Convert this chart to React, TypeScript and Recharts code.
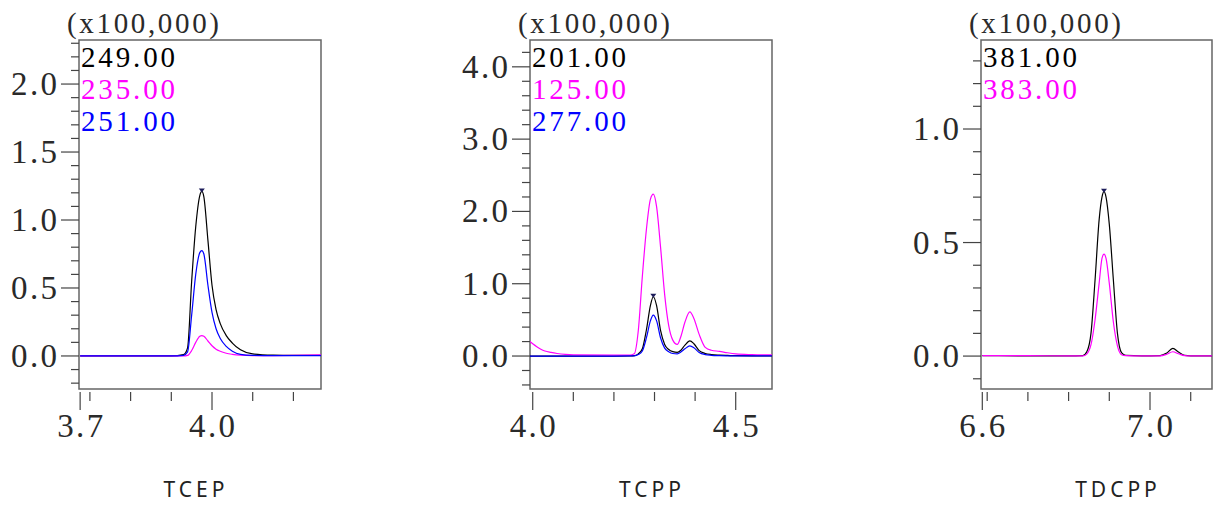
import React from "react";
import {LineChart, Line, XAxis, YAxis, ReferenceArea, ReferenceDot} from "recharts";

const SERIF = "'Liberation Serif', 'DejaVu Serif', serif";
const SANS = "'Noto Sans', 'Open Sans', sans-serif";
const CELL = 16;
const HEIGHT = 506;
const PLOT_TOP = 40;
const PLOT_BOTTOM = 389;

// ---- TCEP ----
const tcepTime = [3.676, 3.8, 3.9, 3.93, 3.94, 3.95, 3.96, 3.97, 3.975, 3.98, 3.99, 4.0, 4.01, 4.02, 4.035, 4.05, 4.07, 4.1, 4.15, 4.2, 4.268];
const tcep249 = [0, 0, 0, 0.01, 0.06, 0.55, 0.95, 1.18, 1.21, 1.17, 0.85, 0.52, 0.34, 0.24, 0.15, 0.095, 0.045, 0.015, 0.006, 0.004, 0.004];
const tcep235 = [0, 0, 0, 0, 0.004, 0.04, 0.1, 0.145, 0.15, 0.145, 0.11, 0.075, 0.05, 0.035, 0.02, 0.012, 0.006, 0.003, 0.003, 0.004, 0.008];
const tcep251 = [0, 0, 0, 0.005, 0.03, 0.3, 0.6, 0.76, 0.775, 0.75, 0.52, 0.32, 0.2, 0.13, 0.07, 0.035, 0.012, 0.004, 0.002, 0.002, 0.003];
const tcepXTicks = [3.676, 3.7, 3.8, 3.9, 4.0, 4.1, 4.2];
const tcepXLabels = ["3.7", "", "", "", "4.0", "", ""];
const tcepYMajor = [0, 0.5, 1.0, 1.5, 2.0];
const tcepYLabels = ["0.0", "0.5", "1.0", "1.5", "2.0"];
const tcepYMinor = [-0.2, -0.1, 0.1, 0.2, 0.3, 0.4, 0.6, 0.7, 0.8, 0.9, 1.1, 1.2, 1.3, 1.4, 1.6, 1.7, 1.8, 1.9, 2.1, 2.2, 2.3];

// ---- TCPP ----
const tcppTime = [3.993, 4.0, 4.01, 4.02, 4.03, 4.045, 4.06, 4.08, 4.1, 4.2, 4.24, 4.25, 4.26, 4.27, 4.28, 4.29, 4.297, 4.305, 4.315, 4.325, 4.335, 4.345, 4.356, 4.365, 4.375, 4.387, 4.397, 4.41, 4.425, 4.44, 4.46, 4.48, 4.5, 4.54, 4.589];
const tcpp201 = [0, 0, 0, 0, 0, 0, 0, 0, 0, 0, 0.002, 0.005, 0.03, 0.1, 0.36, 0.7, 0.82, 0.7, 0.35, 0.16, 0.09, 0.06, 0.05, 0.08, 0.15, 0.21, 0.17, 0.075, 0.035, 0.02, 0.012, 0.008, 0.005, 0.003, 0.003];
const tcpp125 = [0.2, 0.17, 0.13, 0.095, 0.07, 0.05, 0.035, 0.022, 0.016, 0.012, 0.012, 0.03, 0.35, 1.1, 1.75, 2.17, 2.24, 2.07, 1.5, 0.85, 0.42, 0.22, 0.16, 0.27, 0.47, 0.61, 0.52, 0.3, 0.12, 0.08, 0.065, 0.045, 0.03, 0.02, 0.015];
const tcpp277 = [0, 0, 0, 0, 0, 0, 0, 0, 0, 0, 0.001, 0.003, 0.02, 0.07, 0.25, 0.49, 0.567, 0.49, 0.25, 0.11, 0.06, 0.035, 0.03, 0.055, 0.1, 0.14, 0.115, 0.05, 0.02, 0.01, 0.005, 0.003, 0.002, 0.001, 0.001];
const tcppXTicks = [4.0, 4.1, 4.2, 4.3, 4.4, 4.5];
const tcppXLabels = ["4.0", "", "", "", "", "4.5"];
const tcppYMajor = [0, 1, 2, 3, 4];
const tcppYLabels = ["0.0", "1.0", "2.0", "3.0", "4.0"];
const tcppYMinor = [-0.4, -0.2, 0.2, 0.4, 0.6, 0.8, 1.2, 1.4, 1.6, 1.8, 2.2, 2.4, 2.6, 2.8, 3.2, 3.4, 3.6, 3.8, 4.2];

// ---- TDCPP ----
const tdcppTime = [6.588, 6.7, 6.8, 6.835, 6.845, 6.855, 6.865, 6.875, 6.882, 6.887, 6.892, 6.9, 6.91, 6.92, 6.93, 6.94, 6.98, 7.025, 7.04, 7.056, 7.07, 7.085, 7.1, 7.155];
const tdcpp381 = [0.002, 0.001, 0.001, 0.002, 0.02, 0.1, 0.335, 0.6, 0.7, 0.724, 0.7, 0.58, 0.335, 0.1, 0.015, 0.003, 0.001, 0.002, 0.012, 0.034, 0.018, 0.003, 0.001, 0.001];
const tdcpp383 = [0.002, 0.002, 0.001, 0.001, 0.01, 0.05, 0.16, 0.32, 0.43, 0.449, 0.43, 0.32, 0.15, 0.045, 0.006, 0.002, 0.001, 0.001, 0.007, 0.019, 0.01, 0.002, 0.001, 0.001];
const tdcppXTicks = [6.588, 6.6, 6.7, 6.8, 6.9, 7.0, 7.1];
const tdcppXLabels = ["6.6", "", "", "", "", "7.0", ""];
const tdcppYMajor = [0, 0.5, 1.0];
const tdcppYLabels = ["0.0", "0.5", "1.0"];
const tdcppYMinor = [-0.1, 0.1, 0.2, 0.3, 0.4, 0.6, 0.7, 0.8, 0.9, 1.1, 1.2, 1.3];

const BLACK = "#000000";
const MAGENTA = "#ff00ff";
const BLUE = "#0000ff";

type Trace = {mz: string; values: number[]; color: string};
type Panel = {
  title: string;
  titleX: number;
  left: number;
  width: number;
  plotLeft: number;
  plotRight: number;
  xDomain: [number, number];
  yDomain: [number, number];
  time: number[];
  traces: Trace[];
  xTicks: number[];
  xLabels: string[];
  yMajor: number[];
  yLabels: string[];
  yMinor: number[];
};

const panels: Panel[] = [
  {
    title: "TCEP", titleX: 194, left: 0, width: 340, plotLeft: 79, plotRight: 321,
    xDomain: [3.6732, 4.2678], yDomain: [-0.243, 2.324],
    time: tcepTime,
    traces: [
      {mz: "249.00", values: tcep249, color: BLACK},
      {mz: "235.00", values: tcep235, color: MAGENTA},
      {mz: "251.00", values: tcep251, color: BLUE},
    ],
    xTicks: tcepXTicks, xLabels: tcepXLabels, yMajor: tcepYMajor, yLabels: tcepYLabels, yMinor: tcepYMinor,
  },
  {
    title: "TCPP", titleX: 650, left: 450, width: 340, plotLeft: 80, plotRight: 322,
    xDomain: [3.9933, 4.5894], yDomain: [-0.456, 4.371],
    time: tcppTime,
    traces: [
      {mz: "201.00", values: tcpp201, color: BLACK},
      {mz: "125.00", values: tcpp125, color: MAGENTA},
      {mz: "277.00", values: tcpp277, color: BLUE},
    ],
    xTicks: tcppXTicks, xLabels: tcppXLabels, yMajor: tcppYMajor, yLabels: tcppYLabels, yMinor: tcppYMinor,
  },
  {
    title: "TDCPP", titleX: 1116, left: 900, width: 313, plotLeft: 81, plotRight: 312,
    xDomain: [6.5848, 7.1523], yDomain: [-0.145, 1.392],
    time: tdcppTime,
    traces: [
      {mz: "381.00", values: tdcpp381, color: BLACK},
      {mz: "383.00", values: tdcpp383, color: MAGENTA},
    ],
    xTicks: tdcppXTicks, xLabels: tdcppXLabels, yMajor: tdcppYMajor, yLabels: tdcppYLabels, yMinor: tdcppYMinor,
  },
];

// monospaced-looking label: stretches the text so every character takes one cell
function CellText({x, y, text, cell = CELL, size = 33, fill = "#2a2a2a"}: {x: number; y: number; text: string; cell?: number; size?: number; fill?: string}) {
  return (
    <text
      x={x + 1}
      y={y}
      fontFamily={SERIF}
      fontSize={size}
      fill={fill}
      textLength={text.length * cell - 2}
      lengthAdjust="spacing"
    >
      {text}
    </text>
  );
}

const near = (a: number, b: number) => Math.abs(a - b) < 1e-9;

const makeYTick = (axisX: number, majors: number[], labels: string[]) => (props: any) => {
  const {y, payload} = props;
  const idx = majors.findIndex((m) => near(m, payload.value));
  const major = idx >= 0;
  const len = major ? 18 : 8;
  return (
    <g>
      <line x1={axisX - len} x2={axisX} y1={y} y2={y} stroke="#444" strokeWidth={1.2} />
      {major && <CellText x={axisX - 21 - labels[idx].length * CELL} y={y + 11} text={labels[idx]} />}
    </g>
  );
};

const makeXTick = (axisY: number, ticks: number[], labels: string[]) => (props: any) => {
  const {x, payload} = props;
  const idx = ticks.findIndex((t) => near(t, payload.value));
  const label = idx >= 0 ? labels[idx] : "";
  const len = label ? 18 : 9;
  return (
    <g>
      <line x1={x} x2={x} y1={axisY + 3} y2={axisY + 3 + len} stroke="#444" strokeWidth={1.2} />
      {label && <CellText x={x - (label.length * CELL) / 2} y={axisY + 48} text={label} />}
    </g>
  );
};

function PeakMark(props: any) {
  const {cx, cy} = props;
  return <path d={`M${cx - 3},${cy - 3} L${cx + 3},${cy - 3} L${cx},${cy + 1} Z`} fill="#1c1c5a" />;
}

function ChromPanel({p}: {p: Panel}) {
  const rows = p.time.map((t, i) => {
    const row: Record<string, number> = {t};
    p.traces.forEach((tr, k) => {
      row["s" + k] = tr.values[i];
    });
    return row;
  });
  const main = p.traces[0].values;
  const peakIdx = main.indexOf(Math.max(...main));
  const yTicks = [...p.yMinor, ...p.yMajor].sort((a, b) => a - b);

  return (
    <div style={{position: "absolute", left: p.left, top: 0, width: p.width, height: HEIGHT}}>
      <LineChart
        width={p.width}
        height={HEIGHT}
        data={rows}
        margin={{top: PLOT_TOP, right: p.width - p.plotRight, bottom: 0, left: 0}}
      >
        <XAxis
          dataKey="t"
          type="number"
          domain={p.xDomain}
          allowDataOverflow
          ticks={p.xTicks}
          interval={0}
          axisLine={false}
          tickLine={false}
          height={HEIGHT - PLOT_BOTTOM}
          tick={makeXTick(PLOT_BOTTOM, p.xTicks, p.xLabels)}
        />
        <YAxis
          type="number"
          domain={p.yDomain}
          allowDataOverflow
          ticks={yTicks}
          interval={0}
          axisLine={false}
          tickLine={false}
          width={p.plotLeft}
          tick={makeYTick(p.plotLeft, p.yMajor, p.yLabels)}
        />
        <ReferenceArea
          x1={p.xDomain[0]}
          x2={p.xDomain[1]}
          y1={p.yDomain[0]}
          y2={p.yDomain[1]}
          fill="none"
          fillOpacity={0}
          stroke="#666"
          strokeWidth={1.5}
          ifOverflow="visible"
        />
        {p.traces.map((tr, k) => (
          <Line
            key={tr.mz}
            dataKey={"s" + k}
            name={tr.mz}
            type="monotone"
            stroke={tr.color}
            strokeWidth={1.2}
            dot={false}
            activeDot={false}
            isAnimationActive={false}
          />
        ))}
        <ReferenceDot
          x={p.time[peakIdx]}
          y={main[peakIdx]}
          r={3}
          ifOverflow="visible"
          shape={PeakMark}
        />
      </LineChart>
      <svg
        width={p.width}
        height={HEIGHT}
        style={{position: "absolute", left: 0, top: 0, pointerEvents: "none", overflow: "visible"}}
      >
        <CellText x={p.plotLeft - 13} y={33} text="(x100,000)" cell={15.4} size={29} />
        {p.traces.map((tr, k) => (
          <CellText key={tr.mz} x={p.plotLeft + 1} y={67 + 32 * k} text={tr.mz} fill={tr.color} size={29} />
        ))}
        <text
          x={p.titleX - p.left + 2}
          y={497}
          textAnchor="middle"
          fontFamily={SANS}
          fontSize={21}
          letterSpacing={4}
          fill="#222"
        >
          {p.title}
        </text>
      </svg>
    </div>
  );
}

export default function App() {
  return (
    <div style={{position: "absolute", left: 0, top: 0, width: 1213, height: HEIGHT, background: "#fff", overflow: "hidden"}}>
      {panels.map((p) => (
        <ChromPanel key={p.title} p={p} />
      ))}
    </div>
  );
}
